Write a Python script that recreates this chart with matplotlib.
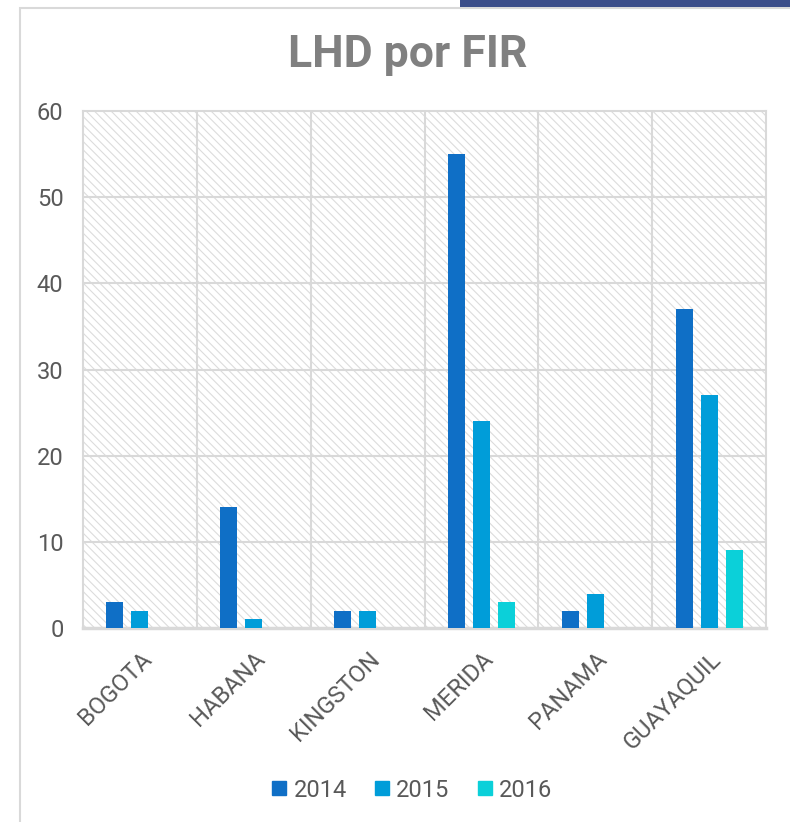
import matplotlib
matplotlib.use("Agg")
import matplotlib.pyplot as plt
import numpy as np
from matplotlib.patches import Rectangle
from matplotlib.lines import Line2D

categories = ["BOGOTA", "HABANA", "KINGSTON", "MERIDA", "PANAMA", "GUAYAQUIL"]
series_names = ["2014", "2015", "2016"]
v2014 = [3, 14, 2, 55, 2, 37]
v2015 = [2, 1, 2, 24, 4, 27]
v2016 = [0, 0, 0, 3, 0, 9]
yticks = [0, 10, 20, 30, 40, 50, 60]
colors = ["#0F6FC6", "#009DD9", "#0BD0D9"]

plt.rcParams['font.family'] = ["Roboto", "DejaVu Sans"]
plt.rcParams['hatch.linewidth'] = 0.8

fig = plt.figure(figsize=(7.9, 8.22), dpi=100)
W, H = 790, 822
# outer chart border
fig.patches.append(Rectangle((20 / W, -0.01), 1, 1.01 - 8 / H, transform=fig.transFigure,
                             facecolor="white", edgecolor="#D9D9D9", lw=1.5, zorder=0))
# dark band at top right
fig.patches.append(Rectangle((460 / W, 1 - 7 / H), 1, 7 / H, transform=fig.transFigure,
                             facecolor="#3B4E8A", edgecolor="none", zorder=1))

ax = fig.add_axes([83 / W, 1 - 628 / H, (766 - 83) / W, (628 - 111) / H])
ax.set_zorder(5)
ax.set_facecolor("white")
ax.add_patch(Rectangle((0, 0), 1, 1, transform=ax.transAxes, facecolor="white",
                       edgecolor="#DCDCDC", lw=0, hatch="\\\\\\\\", zorder=0))

x = np.arange(len(categories))
bw = 0.15
off = 0.22
data = [v2014, v2015, v2016]
for i, (vals, c, n) in enumerate(zip(data, colors, series_names)):
    ax.bar(x + (i - 1) * off, vals, width=bw, color=c, label=n, zorder=3)

ax.set_xlim(-0.5, len(categories) - 0.5)
ax.set_ylim(0, 60)
ax.set_yticks(yticks)
ax.set_yticklabels([str(t) for t in yticks], fontsize=17, color="#595959")
ax.set_xticks(x)
ax.set_xticklabels(categories, rotation=45, ha="right", rotation_mode="anchor",
                   fontsize=17, color="#595959")
ax.tick_params(axis="y", length=0, pad=14)
ax.tick_params(axis="x", length=0, pad=14)
for xb in np.arange(0.5, len(categories) - 0.5, 1):
    ax.axvline(xb, color="#D9D9D9", lw=1.5, zorder=1)
for yt in yticks[1:-1]:
    ax.axhline(yt, color="#D9D9D9", lw=1.5, zorder=1)
for s in ax.spines.values():
    s.set_color("#D9D9D9")
    s.set_linewidth(1.5)
ax.spines['bottom'].set_linewidth(2.5)

fig.text(408 / W, 1 - 55 / H, "LHD por FIR", ha="center", va="center",
         fontsize=32, fontweight="bold", color="#808080")

handles = [Line2D([0], [0], marker="s", linestyle="none", markersize=10,
                  markerfacecolor=c, markeredgecolor=c) for c in colors]
fig.legend(handles, series_names, loc="center", bbox_to_anchor=(410 / W, 1 - 790 / H),
           ncol=3, frameon=False, fontsize=17, labelcolor="#595959",
           handletextpad=0.1, columnspacing=1.0, handlelength=1.0)

fig.savefig("out.png", dpi=100)
